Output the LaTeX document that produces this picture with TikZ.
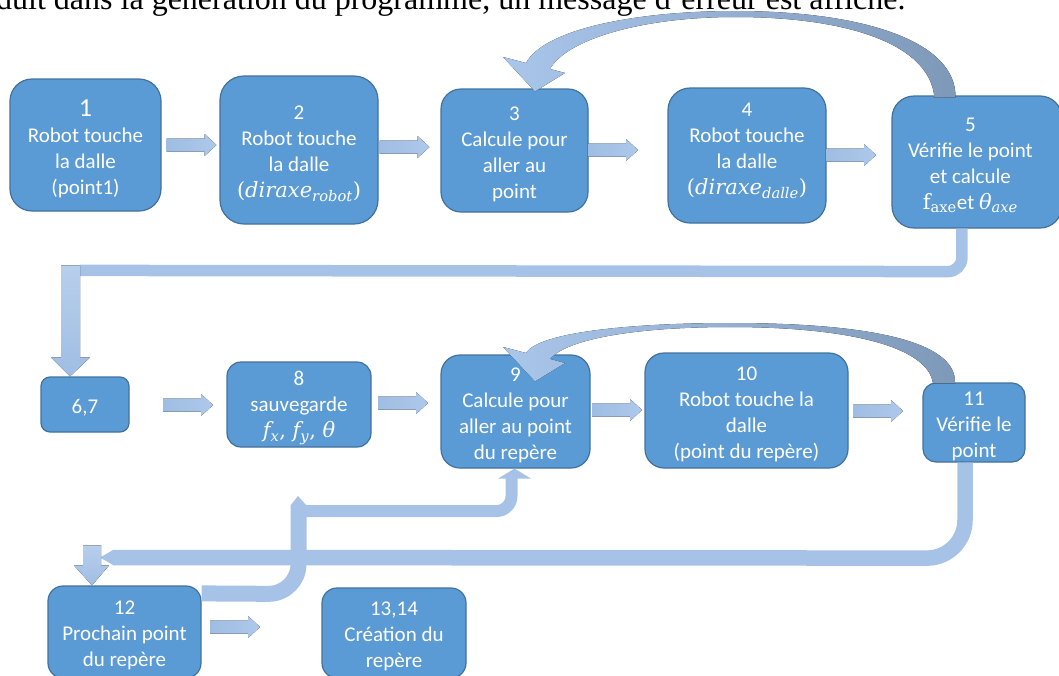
\documentclass[tikz,border=0pt]{standalone}
\usepackage{fix-cm}
\usepackage[no-math]{fontspec}
\setmainfont{Carlito}
\newfontfamily\introfont{Liberation Serif}
\newfontfamily\formfont{DejaVu Serif}
\usetikzlibrary{calc}

\definecolor{boxfill}{HTML}{5B9BD5}
\definecolor{boxline}{HTML}{41719C}
\definecolor{connfill}{HTML}{A6C3E7}
\definecolor{arrowleft}{HTML}{9FBDE3}
\definecolor{arrowright}{HTML}{ADC8EA}
\definecolor{curveleft}{HTML}{A9C6EB}
\definecolor{curvemid}{HTML}{97B5DD}
\definecolor{curveright}{HTML}{7E98B8}

% italic formula pieces: base and subscript
\newcommand\fit[2]{{\formfont\itshape #1}\textsubscript{\formfont\itshape #2}}
\newcommand\fup[2]{{\formfont #1}\textsubscript{\formfont #2}}

\tikzset{
  box/.style={draw=boxline, line width=1.2pt, fill=boxfill, inner sep=0pt},
  boxtext/.style={text=white, align=center, inner sep=0pt,
    font=\fontsize{21}{26}\selectfont},
  conn/.style={draw=connfill, line cap=butt},
  connfillstyle/.style={fill=connfill},
  curvedshade/.style={left color=curveleft, middle color=curvemid, right color=curveright},
  pics/blockarrow/.style={code={
    \fill[left color=arrowleft, right color=arrowright]
      (-25,-6.5) -- (13,-6.5) -- (13,-11) -- (25,0) -- (13,11) -- (13,6.5) -- (-25,6.5) -- cycle;}}
}

% name, x1, y1, x2, y2, corner radius, text
\newcommand\flowbox[7]{%
  \node[box, rounded corners=#6pt, minimum width={(#4-#2)*1pt},
        minimum height={(#5-#3)*1pt}] (#1) at ({(#2+#4)/2},{(#3+#5)/2}) {};
  \node[boxtext] (#1t) at ($(#1.center)+(0,3.5)$) {#7};}

\begin{document}
\begin{tikzpicture}[x=1pt, y=-1pt]
\useasboundingbox (0,0) rectangle (1059,675);
\clip (0,0) rectangle (1059,675);

% sentence running above the flowchart
\node[anchor=base west, inner sep=0pt, font=\introfont\fontsize{32}{36}\selectfont]
  (intro) at (-4,9) {duit dans la génération du programme, un message d’erreur est affiché.};

% first row
\flowbox{b1}{10}{79}{161}{211}{22}{{\fontsize{26}{27}\selectfont 1}\\Robot touche\\la dalle\\(point1)}
\flowbox{b2}{220}{76}{378}{224}{24}{2\\Robot touche\\la dalle\\{\formfont(}\fit{diraxe}{robot}{\formfont)}}
\flowbox{b3}{441}{89}{588}{212}{20}{3\\Calcule pour\\aller au\\point}
\flowbox{b4}{668}{88}{826}{223}{22}{4\\Robot touche\\la dalle\\{\formfont(}\fit{diraxe}{dalle}{\formfont)}\rule[-20pt]{0pt}{1pt}}
% step 5 runs past the right edge; its text stays where the box would centre it
\node[box, rounded corners=22pt, minimum width=170pt, minimum height=132pt] (b5) at (977,162) {};
\node[boxtext] (b5t) at ($(b5.west)+(79,3.5)$) {5\\Vérifie le point\\et calcule\\\fup{f}{axe}et \fit{θ}{axe}};

% second row
\flowbox{b67}{41}{377}{129}{432}{9}{6,7}
\flowbox{b8}{227}{362}{371}{447}{14}{8\\sauvegarde\\\fit{f}{x}{\formfont, }\fit{f}{y}{\formfont, \itshape θ}}
\flowbox{b9}{441}{355}{590}{468}{19}{9\\Calcule pour\\aller au point\\du repère}
\flowbox{b10}{645}{353}{848}{468}{19}{10\\Robot touche la\\dalle\\(point du repère)}
\flowbox{b11}{923}{383}{1025}{462}{13}{11\\Vérifie le\\point}

% third row
\flowbox{b12}{48}{586}{201}{678}{15}{12\\Prochain point\\du repère}
\flowbox{b1314}{322}{588}{466}{678}{15}{13,14\\Création du\\repère}

% straight block arrows between neighbouring steps
\pic at (191.5,145) {blockarrow};
\pic at (404.5,147) {blockarrow};
\pic at (613,150) {blockarrow};
\pic at (851,155) {blockarrow};
\pic at (188,405) {blockarrow};
\pic at (403,403) {blockarrow};
\pic at (617,410) {blockarrow};
\pic at (878,411) {blockarrow};
\pic at (235,627) {blockarrow};

% from step 5 down to steps 6,7
\coordinate (down67) at ($(b67.north)+(-15,0)$);
\draw[conn, line width=11.5pt, rounded corners=14pt]
  ($(b5.south west)+(70.5,0)$) -- ++(0,43) -- ($(down67)+(10,-106)$);
\fill[top color=connfill!80!white, bottom color=arrowleft]
  ($(down67)+(-9,-111)$) -- ++(19,0) -- ++(0,92) -- ++(10,0) -- (down67)
  -- ++(-19,-19) -- ++(10,0) -- cycle;

% from step 11 back to step 12
\draw[conn, line width=15.5pt, rounded corners=38pt]
  ($(b11.south)+(-9,0)$) -- ++(0,95.5) -- (113,557.5);
\fill[connfillstyle] (113.5,549.75) -- (100,557.5) -- (113.5,565.25) -- cycle;
\coordinate (down12) at ($(b12.north)+(-32.5,0)$);
\fill[top color=connfill!80!white, bottom color=arrowleft]
  ($(down12)+(-9,-40)$) -- ++(18,0) -- ++(0,20) -- ++(8,0) -- (down12)
  -- ++(-18,-20) -- ++(9,0) -- cycle;

% from step 12 up to step 9
\draw[conn, line width=16pt, rounded corners=30pt]
  ($(b12.north east)+(0,8)$) -- (298.5,594) -- (298.5,505);
\fill[connfillstyle] (290.5,505.5) -- (298,496) -- (306.5,505.5) -- cycle;
\draw[conn, line width=12pt, rounded corners=15pt]
  (296,511) -- (511.5,511) -- (511.5,477);
\fill[connfillstyle] ($(b9.south)+(-17.5,10)$) -- ++(33,0) -- ($(b9.south)+(-1,0)$) -- cycle;

% loop from step 5 back to step 3
\fill[curvedshade]
  ($(b5.south west)+(43,-131)$) .. controls (930,45) and (850,17) .. (735,17)
  .. controls (640,17) and (566,40) .. (550,69) -- (565,73)
  -- ($(b3.north)+(20.5,3)$) -- (503,57) -- (526,63)
  .. controls (545,28) and (640,11) .. (735,11)
  .. controls (865,11) and (957,42) .. ($(b5.south west)+(64,-131)$) -- cycle;

% loop from step 11 back to step 9
\fill[curvedshade]
  ($(b11.north)+(-41,1)$) .. controls (928,347) and (850,327) .. (730,327)
  .. controls (640,327) and (568,338) .. (550,359) -- (565,363)
  -- ($(b9.north)+(19.5,27)$) -- (503,347) -- (526,353)
  .. controls (540,331) and (640,323) .. (730,323)
  .. controls (865,323) and (957,340) .. ($(b11.north)+(-19,1)$) -- cycle;

\end{tikzpicture}
\end{document}
